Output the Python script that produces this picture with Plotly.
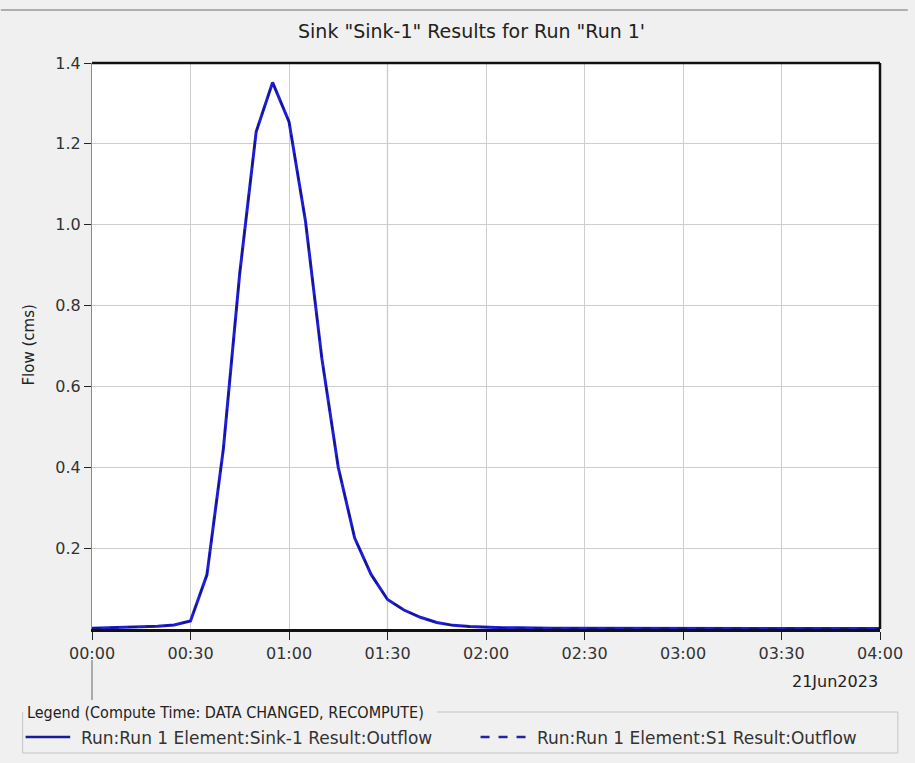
import plotly.graph_objects as go

# ---------------- data ----------------
time_min = [0, 5, 10, 15, 20, 25, 30, 35, 40, 45, 50, 55, 60, 65, 70, 75, 80, 85, 90, 95,
            100, 105, 110, 115, 120, 125, 130, 135, 140, 145, 150, 155, 160, 165, 170, 175,
            180, 185, 190, 195, 200, 205, 210, 215, 220, 225, 230, 235, 240]

outflow_sink1 = [0.002, 0.003, 0.004, 0.005, 0.007, 0.010, 0.020, 0.134, 0.445, 0.880,
                 1.230, 1.352, 1.255, 1.010, 0.670, 0.400, 0.225, 0.135, 0.073, 0.047,
                 0.029, 0.016, 0.009, 0.006, 0.004, 0.003, 0.003, 0.002, 0.002, 0.002,
                 0.002, 0.002, 0.002, 0.002, 0.001, 0.001, 0.001, 0.001, 0.001, 0.001,
                 0.001, 0.001, 0.001, 0.001, 0.001, 0.001, 0.001, 0.001, 0.001]

outflow_s1 = [0.002, 0.003, 0.004, 0.005, 0.007, 0.010, 0.020, 0.134, 0.445, 0.880,
              1.230, 1.352, 1.255, 1.010, 0.670, 0.400, 0.225, 0.135, 0.073, 0.047,
              0.029, 0.016, 0.009, 0.006, 0.004, 0.003, 0.003, 0.002, 0.002, 0.002,
              0.002, 0.002, 0.002, 0.002, 0.001, 0.001, 0.001, 0.001, 0.001, 0.001,
              0.001, 0.001, 0.001, 0.001, 0.001, 0.001, 0.001, 0.001, 0.001]

x_tick_vals = [0, 30, 60, 90, 120, 150, 180, 210, 240]
x_tick_text = ["00:00", "00:30", "01:00", "01:30", "02:00", "02:30", "03:00", "03:30", "04:00"]
y_tick_vals = [0.2, 0.4, 0.6, 0.8, 1.0, 1.2, 1.4]
y_tick_text = ["0.2", "0.4", "0.6", "0.8", "1.0", "1.2", "1.4"]

title_text = 'Sink "Sink-1" Results for Run "Run 1\''
y_title = "Flow (cms)"
date_text = "21Jun2023"
legend_title = "Legend (Compute Time: DATA CHANGED, RECOMPUTE)"
name_sink1 = "Run:Run 1 Element:Sink-1 Result:Outflow"
name_s1 = "Run:Run 1 Element:S1 Result:Outflow"

# ---------------- layout geometry (pixels) ----------------
W, H = 915, 763
L, R, T, B = 92, 887, 63, 629


def px(x):
    return (x - L) / (R - L)


def py(y):
    return (B - y) / (B - T)


FONT = "DejaVu Sans, Liberation Sans, Arial, sans-serif"
COND = "DejaVu Sans Condensed, Liberation Sans Narrow, DejaVu Sans, sans-serif"
SOLID_C = "#1e1ed4"
DASH_C = "#14148a"

fig = go.Figure()
fig.add_trace(go.Scatter(x=time_min, y=outflow_sink1, mode="lines", name=name_sink1,
                         line=dict(color=SOLID_C, width=3), showlegend=False))
fig.add_trace(go.Scatter(x=time_min, y=outflow_s1, mode="lines", name=name_s1,
                         line=dict(color=DASH_C, width=1.6, dash="dash"), showlegend=False))

shapes = []
# darker grid line at 01:30
shapes.append(dict(type="line", xref="x", yref="paper", x0=90, x1=90, y0=0, y1=1,
                   line=dict(color="#a8a8a8", width=1.2), layer="below"))
# top & right frame
shapes.append(dict(type="line", xref="paper", yref="paper", x0=0, x1=1, y0=1, y1=1,
                   line=dict(color="#111111", width=2.5)))
shapes.append(dict(type="line", xref="paper", yref="paper", x0=1, x1=1, y0=0, y1=1,
                   line=dict(color="#111111", width=2.5)))
# top grey separator line
shapes.append(dict(type="line", xref="paper", yref="paper", x0=px(0), x1=px(W), y0=py(10), y1=py(10),
                   line=dict(color="#9a9a9a", width=1.5)))
# vertical line under the first tick (date row)
shapes.append(dict(type="line", xref="paper", yref="paper", x0=px(92), x1=px(92), y0=py(660), y1=py(700),
                   line=dict(color="#666666", width=1)))
# legend frame (titled border)
frame_c = "#c4c4c4"
shapes.append(dict(type="path", xref="paper", yref="paper",
                   path=f"M {px(440)},{py(712)} L {px(905)},{py(712)} L {px(905)},{py(753)} "
                        f"L {px(22)},{py(753)} L {px(22)},{py(712)}",
                   line=dict(color=frame_c, width=1)))
# legend samples
shapes.append(dict(type="line", xref="paper", yref="paper", x0=px(25), x1=px(70), y0=py(737), y1=py(737),
                   line=dict(color="#1a1a9a", width=2.5)))
shapes.append(dict(type="line", xref="paper", yref="paper", x0=px(484), x1=px(531), y0=py(737), y1=py(737),
                   line=dict(color="#24249a", width=2.5, dash="dash")))

annotations = []
annotations.append(dict(text=title_text, xref="paper", yref="paper", x=px(475), y=py(31),
                        showarrow=False, xanchor="center", yanchor="middle",
                        font=dict(family=FONT, size=19, color="#222222")))
annotations.append(dict(text=y_title, xref="paper", yref="paper", x=px(28), y=py(345),
                        showarrow=False, xanchor="center", yanchor="middle", textangle=-90,
                        font=dict(family=FONT, size=15, color="#222222")))
annotations.append(dict(text=date_text, xref="paper", yref="paper", x=px(796), y=py(681),
                        showarrow=False, xanchor="left", yanchor="middle",
                        font=dict(family=FONT, size=16, color="#222222")))
annotations.append(dict(text=legend_title, xref="paper", yref="paper", x=px(24), y=py(712),
                        showarrow=False, xanchor="left", yanchor="middle",
                        font=dict(family=COND, size=16, color="#222222")))
annotations.append(dict(text=name_sink1, xref="paper", yref="paper", x=px(79), y=py(738),
                        showarrow=False, xanchor="left", yanchor="middle",
                        font=dict(family=FONT, size=17, color="#333333")))
annotations.append(dict(text=name_s1, xref="paper", yref="paper", x=px(539), y=py(738),
                        showarrow=False, xanchor="left", yanchor="middle",
                        font=dict(family=FONT, size=17, color="#333333")))

fig.update_layout(
    width=W, height=H,
    margin=dict(l=L, r=W - R, t=T, b=H - B, pad=0),
    paper_bgcolor="#f0f0f0",
    plot_bgcolor="#ffffff",
    showlegend=False,
    shapes=shapes,
    annotations=annotations,
    xaxis=dict(range=[0, 240], tickmode="array", tickvals=x_tick_vals, ticktext=x_tick_text,
               showgrid=True, gridcolor="#cdcdcd", gridwidth=1, zeroline=False,
               showline=True, linecolor="#111111", linewidth=3,
               ticks="outside", ticklen=8, tickcolor="#222222", tickwidth=1.2,
               tickfont=dict(family=FONT, size=16, color="#333333"), fixedrange=True),
    yaxis=dict(range=[0, 1.4], tickmode="array", tickvals=y_tick_vals, ticktext=y_tick_text,
               showgrid=True, gridcolor="#cdcdcd", gridwidth=1, zeroline=False,
               showline=True, linecolor="#8a8a8a", linewidth=1,
               ticks="outside", ticklen=7, tickcolor="#222222", tickwidth=1.2,
               tickfont=dict(family=FONT, size=16, color="#333333"), fixedrange=True),
)

fig.write_html("out.html")
